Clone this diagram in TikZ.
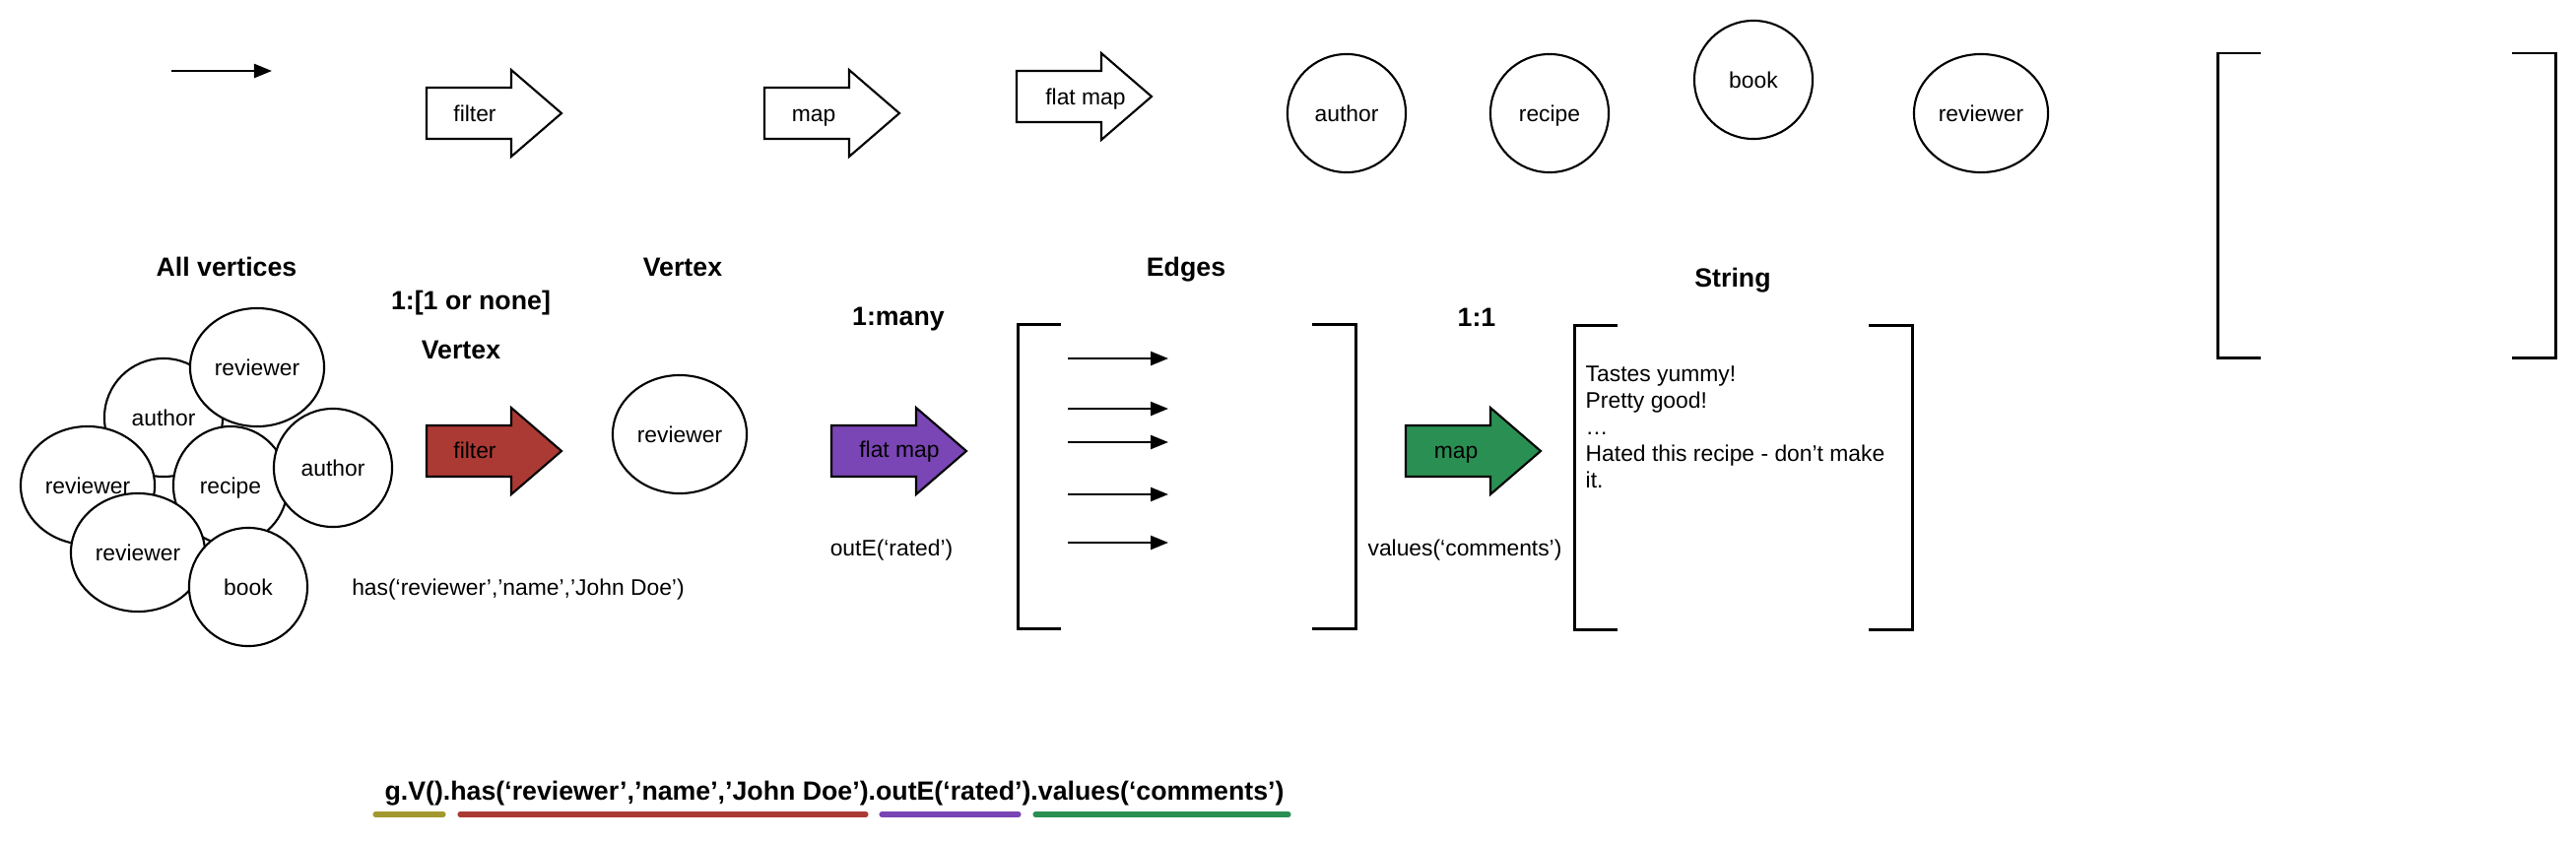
\documentclass[tikz,border=0pt]{standalone}
\usepackage{fontspec}
\setmainfont{Liberation Sans}
\usetikzlibrary{shapes.geometric,arrows.meta}

\definecolor{gremlinolive}{HTML}{A3982F}
\definecolor{filterred}{HTML}{AB3A35}
\definecolor{flatpurple}{HTML}{7A45B4}
\definecolor{mapgreen}{HTML}{2A8F53}

\tikzset{
  vtx/.style={draw, line width=0.6pt, fill=white, ellipse, inner sep=0pt,
    minimum width=1.2cm, minimum height=1.2cm, text height=0.75em, text depth=0.25em,
    font=\fontsize{6.5}{7.8}\selectfont},
  vtxwide/.style={vtx, minimum width=1.36cm},
  lbl/.style={inner sep=0pt, text height=0.75em, text depth=0.25em, font=\fontsize{6.5}{7.8}\selectfont},
  ttl/.style={inner sep=0pt, text height=0.75em, text depth=0.25em, font=\fontsize{7.6}{9}\selectfont\bfseries},
  edgearrow/.style={line width=0.7pt, -{Triangle[length=0.18cm,width=0.14cm]}},
  codebar/.style={line width=1.45pt, line cap=round},
  bigarrow/.pic={\draw[line width=0.6pt, pic actions] (0,-26) -- (86,-26) -- (86,-44) -- (137,0) -- (86,44) -- (86,26) -- (0,26) -- cycle;},
  brk/.pic={\draw[line width=0.85pt] (44,0) -- (0,0) -- (0,309) -- (44,309);
    \draw[line width=0.85pt] (299,0) -- (343,0) -- (343,309) -- (299,309);}
}

\begin{document}
\begin{tikzpicture}[x=0.01cm, y=-0.01cm]
\useasboundingbox (0,0) rectangle (2615,854);

% legend row
\coordinate (leg0) at (174,72);
\coordinate (leg1) at (276,72);
\draw[edgearrow] (leg0) -- (leg1);
\pic at (433,115) {bigarrow};
\node[lbl] (legfilter) at (482,115) {filter};
\pic at (776,115) {bigarrow};
\node[lbl] (legmap) at (826,115) {map};
\pic at (1032,98) {bigarrow};
\node[lbl] (legflat) at (1102,98) {flat map};
\node[vtx] (legauthor) at (1367,115) {author};
\node[vtx] (legrecipe) at (1573,115) {recipe};
\node[vtx] (legbook) at (1780,81) {book};
\node[vtxwide] (legreviewer) at (2011,115) {reviewer};
\pic at (2251,54) {brk};

% titles
\node[ttl] (alltitle) at (230,272) {All vertices};
\node[ttl] (vtxtitle) at (693,272) {Vertex};
\node[ttl] (filterratio) at (478,306) {1:[1 or none]};
\node[ttl] (filterout) at (468,356) {Vertex};
\node[ttl] (edgetitle) at (1204,272) {Edges};
\node[ttl] (flatratio) at (912,322) {1:many};
\node[ttl] (mapratio) at (1499,323) {1:1};
\node[ttl] (strtitle) at (1759,283) {String};

% all vertices
\node[vtx] (author1) at (166,424) {author};
\node[vtxwide] (reviewer1) at (261,373) {reviewer};
\node[vtx, minimum width=1.16cm] (recipe1) at (234,493) {recipe};
\node[vtxwide] (reviewer2) at (89,493) {reviewer};
\node[vtx] (author2) at (338,475) {author};
\node[vtxwide] (reviewer3) at (140,561) {reviewer};
\node[vtx] (book1) at (252,596) {book};

% filter
\pic[fill=filterred] at (433,458) {bigarrow};
\node[lbl] (filtertxt) at (482,457) {filter};
\node[lbl] (hastxt) at (526,596) {has(‘reviewer’,’name’,’John Doe’)};
\node[vtxwide] (reviewer4) at (690,441) {reviewer};

% flat map
\pic[fill=flatpurple] at (844,458) {bigarrow};
\node[lbl] (flattxt) at (913,456) {flat map};
\node[lbl] (outetxt) at (905,556) {outE(‘rated’)};
\pic at (1033,329) {brk};
\coordinate (es1) at (1084,364); \coordinate (et1) at (1186,364);
\coordinate (es2) at (1084,415); \coordinate (et2) at (1186,415);
\coordinate (es3) at (1084,449); \coordinate (et3) at (1186,449);
\coordinate (es4) at (1084,502); \coordinate (et4) at (1186,502);
\coordinate (es5) at (1084,551); \coordinate (et5) at (1186,551);
\draw[edgearrow] (es1) -- (et1);
\draw[edgearrow] (es2) -- (et2);
\draw[edgearrow] (es3) -- (et3);
\draw[edgearrow] (es4) -- (et4);
\draw[edgearrow] (es5) -- (et5);

% map
\pic[fill=mapgreen] at (1427,458) {bigarrow};
\node[lbl] (maptxt) at (1478,457) {map};
\node[lbl] (valuestxt) at (1487,556) {values(‘comments’)};
\pic at (1598,330) {brk};
\node[inner sep=0pt, anchor=north west, align=left, font=\fontsize{6.5}{7.68}\selectfont] (comments) at (1609,371)
  {Tastes yummy!\\Pretty good!\\…\\Hated this recipe - don’t make\\it.};

% query
\node[ttl] (query) at (847,804) {g.V().has(‘reviewer’,’name’,’John Doe’).outE(‘rated’).values(‘comments’)};
\draw[codebar, gremlinolive] (381,827) -- (450,827);
\draw[codebar, filterred] (467,827) -- (879,827);
\draw[codebar, flatpurple] (895,827) -- (1034,827);
\draw[codebar, mapgreen] (1051,827) -- (1308,827);
\end{tikzpicture}
\end{document}
